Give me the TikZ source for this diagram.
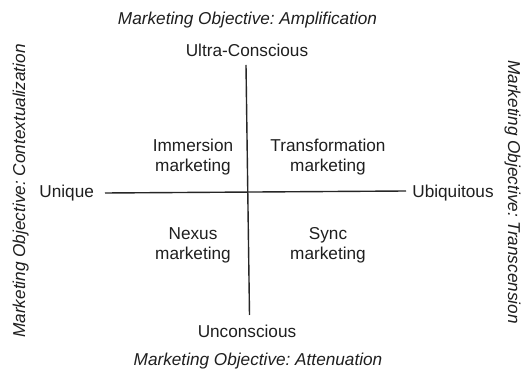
\documentclass[tikz,border=0pt]{standalone}
\usepackage{fontspec}
\setmainfont{Liberation Sans}
\frenchspacing
\begin{document}
\begin{tikzpicture}[x=1pt,y=-1pt,
  lbl/.style={anchor=base,inner sep=0pt,text=black!88,font=\fontsize{17.2}{20}\selectfont,align=center},
  obj/.style={lbl,font=\fontsize{17.2}{20}\selectfont\itshape},
  axis/.style={line width=1.4pt,draw=black!85}]
\useasboundingbox (0,0) rectangle (531,371);
\fill[white] (0,0) rectangle (531,371);

% objective captions around the grid
\node[obj] (amp) at (247.5,25) {Marketing Objective: Amplification};
\node[obj] (att) at (258,366) {Marketing Objective: Attenuation};
\node[obj,rotate=90] (ctx) at (25,191) {Marketing Objective: Contextualization};
\node[obj,rotate=-90] (trs) at (508,192) {Marketing Objective: Transcension};

% axis end labels
\node[lbl] (ultra) at (247,57) {Ultra-Conscious};
\node[lbl] (uncon) at (247,338) {Unconscious};
\node[lbl] (uniq) at (66.7,198) {Unique};
\node[lbl] (ubiq) at (453,198) {Ubiquitous};

% quadrants (base anchor sits on the last line)
\node[lbl] (imm) at (193,172) {Immersion\\marketing};
\node[lbl] (trf) at (328,172) {Transformation\\marketing};
\node[lbl] (nex) at (193,260) {Nexus\\marketing};
\node[lbl] (syn) at (328,260) {Sync\\marketing};

% axes
\coordinate (vtop) at (246,65);
\coordinate (vbot) at (249.5,315);
\coordinate (hleft) at (105,193);
\coordinate (hright) at (406,191);
\draw[axis] (vtop) -- (vbot);
\draw[axis] (hleft) -- (hright);
\end{tikzpicture}
\end{document}
